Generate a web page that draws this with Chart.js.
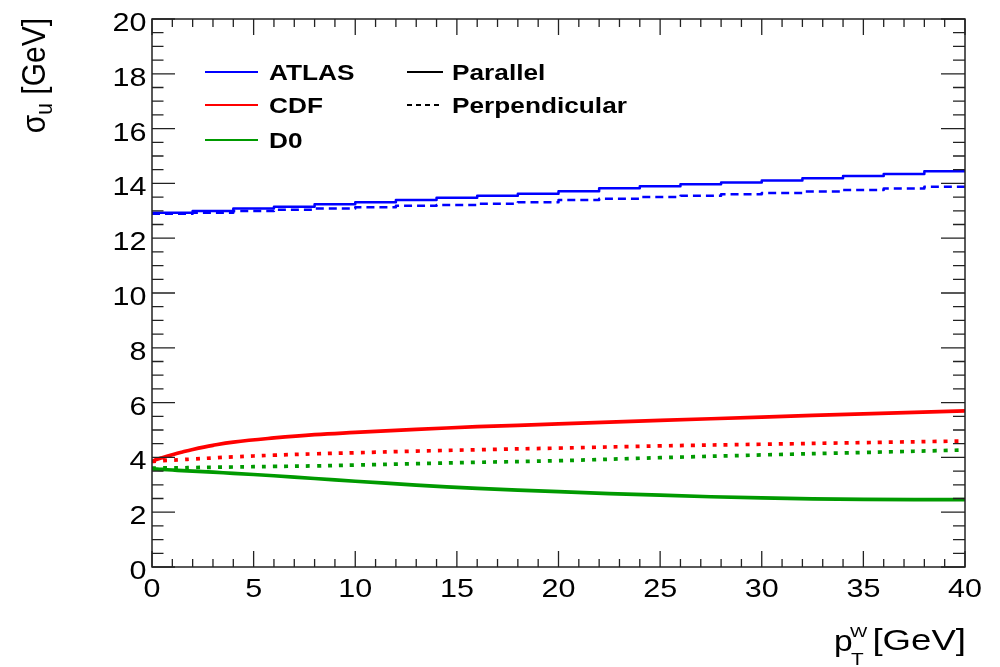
<!DOCTYPE html>
<html>
<head>
<meta charset="utf-8">
<script src="https://cdn.jsdelivr.net/npm/chart.js@4/dist/chart.umd.min.js"></script>
<style>
html,body{margin:0;padding:0;background:#fff;}
#wrap{position:relative;width:1000px;height:667px;}
</style>
</head>
<body>
<div id="wrap"><canvas id="c" width="1000" height="667"></canvas></div>
<script>
// ---- data ----
const binEdges = [0,2,4,6,8,10,12,14,16,18,20,22,24,26,28,30,32,34,36,38,40];
const atlasParallel = [12.93,12.99,13.08,13.15,13.24,13.31,13.39,13.48,13.55,13.62,13.71,13.82,13.90,13.97,14.03,14.11,14.19,14.27,14.34,14.44];
const atlasPerpendicular = [12.89,12.93,12.99,13.04,13.08,13.13,13.18,13.21,13.26,13.31,13.39,13.44,13.50,13.55,13.60,13.65,13.70,13.76,13.81,13.88];
const curveX = [0,0.25,0.5,1,1.5,2,3,4,6,8,10,13,16,20,25,30,35,40];
const cdfParallel = [3.85,3.93,3.99,4.10,4.20,4.29,4.44,4.56,4.71,4.83,4.91,5.02,5.12,5.22,5.35,5.47,5.59,5.70];
const cdfPerpendicular = [3.85,3.87,3.88,3.90,3.92,3.94,3.98,4.02,4.08,4.13,4.17,4.23,4.28,4.34,4.42,4.48,4.54,4.60];
const d0Parallel = [3.58,3.57,3.56,3.54,3.52,3.50,3.46,3.42,3.33,3.23,3.13,2.99,2.87,2.75,2.62,2.52,2.47,2.46];
const d0Perpendicular = [3.61,3.61,3.62,3.62,3.62,3.63,3.64,3.65,3.67,3.69,3.72,3.77,3.82,3.88,3.99,4.09,4.18,4.27];
const xTickLabels = [0,5,10,15,20,25,30,35,40];
const yTickLabels = [0,2,4,6,8,10,12,14,16,18,20];
const legendExperiments = ['ATLAS','CDF','D0'];
const legendStyles = ['Parallel','Perpendicular'];

const BLUE = '#0000ff', RED = '#ff0000', GREEN = '#009a00';
const FONT = "'Liberation Sans', Arial, Helvetica, sans-serif";
const SX = 1.22;

function histPoints(edges, vals){
  const pts = vals.map((v,i)=>({x:edges[i], y:v}));
  pts.push({x:edges[edges.length-1], y:vals[vals.length-1]});
  return pts;
}
function curvePoints(xs, ys){ return xs.map((x,i)=>({x:x, y:ys[i]})); }

function sText(ctx, text, x, y, align, font, sx){
  ctx.save();
  ctx.font = font;
  ctx.translate(x, y);
  ctx.scale(sx, 1);
  ctx.textAlign = align;
  ctx.textBaseline = 'alphabetic';
  ctx.fillStyle = '#000';
  ctx.fillText(text, 0, 0);
  ctx.restore();
}

const decor = {
  id: 'decor',
  afterDatasetsDraw(chart){
    const ctx = chart.ctx;
    const xs = chart.scales.x, ys = chart.scales.y;
    const L = chart.chartArea.left, R = chart.chartArea.right, T = chart.chartArea.top, B = chart.chartArea.bottom;
    ctx.save();
    ctx.strokeStyle = '#222';
    ctx.lineWidth = 1.3;
    ctx.beginPath();
    for (let i = 0; i < xTickLabels.length; i++){
      const v = xTickLabels[i];
      const px = xs.getPixelForValue(v);
      ctx.moveTo(px, B); ctx.lineTo(px, B-16);
      ctx.moveTo(px, T); ctx.lineTo(px, T+16);
      if (i < xTickLabels.length-1){
        const step = (xTickLabels[i+1]-v)/5;
        for (let k=1;k<5;k++){
          const mx = xs.getPixelForValue(v+k*step);
          ctx.moveTo(mx, B); ctx.lineTo(mx, B-8);
          ctx.moveTo(mx, T); ctx.lineTo(mx, T+8);
        }
      }
    }
    for (let i = 0; i < yTickLabels.length; i++){
      const v = yTickLabels[i];
      const py = ys.getPixelForValue(v);
      ctx.moveTo(L, py); ctx.lineTo(L+23, py);
      ctx.moveTo(R, py); ctx.lineTo(R-24, py);
      if (i < yTickLabels.length-1){
        const step = (yTickLabels[i+1]-v)/4;
        for (let k=1;k<4;k++){
          const my = ys.getPixelForValue(v+k*step);
          ctx.moveTo(L, my); ctx.lineTo(L+11.5, my);
          ctx.moveTo(R, my); ctx.lineTo(R-12, my);
        }
      }
    }
    ctx.stroke();
    ctx.lineWidth = 1.5;
    ctx.strokeRect(L, T, R-L, B-T);
    ctx.restore();

    const tickFont = '25px ' + FONT;
    xTickLabels.forEach(v=>{
      sText(ctx, String(v), xs.getPixelForValue(v), 597, 'center', tickFont, SX);
    });
    yTickLabels.forEach(v=>{
      sText(ctx, String(v), 146.5, ys.getPixelForValue(v)+12, 'right', tickFont, SX);
    });

    const titleFont = '30px ' + FONT;
    sText(ctx, '[GeV]', 966, 650, 'right', titleFont, SX);
    sText(ctx, 'p', 834, 651, 'left', '30px ' + FONT, 1.12);
    sText(ctx, 'W', 850, 637, 'left', '15px ' + FONT, SX);
    sText(ctx, 'T', 851, 665, 'left', '17px ' + FONT, SX);

    ctx.save();
    ctx.fillStyle = '#000';
    ctx.textBaseline = 'alphabetic';
    ctx.textAlign = 'left';
    ctx.font = titleFont;
    const wSig = ctx.measureText('\u03c3').width;
    const wRest = ctx.measureText(' [GeV]').width;
    ctx.font = '21px ' + FONT;
    const wU = ctx.measureText('u').width;
    const total = wSig + wU + wRest;
    ctx.translate(45, 18);
    ctx.scale(1.1, 1);
    ctx.rotate(-Math.PI/2);
    let pos = -total;
    ctx.font = titleFont;
    ctx.fillText('\u03c3', pos, 0); pos += wSig;
    ctx.font = '21px ' + FONT;
    ctx.fillText('u', pos, 6); pos += wU;
    ctx.font = titleFont;
    ctx.fillText(' [GeV]', pos, 0);
    ctx.restore();

    const legFont = 'bold 21.5px ' + FONT;
    const expColors = [BLUE, RED, GREEN];
    const rowY = [72, 105, 140];
    ctx.save();
    ctx.lineWidth = 2;
    legendExperiments.forEach((name, i)=>{
      ctx.strokeStyle = expColors[i];
      ctx.setLineDash([]);
      ctx.beginPath(); ctx.moveTo(205, rowY[i]); ctx.lineTo(258, rowY[i]); ctx.stroke();
      sText(ctx, name, 269, rowY[i]+8, 'left', legFont, SX);
    });
    legendStyles.forEach((name, i)=>{
      ctx.strokeStyle = '#000';
      ctx.setLineDash(i === 0 ? [] : [5,4]);
      ctx.beginPath(); ctx.moveTo(407, rowY[i]); ctx.lineTo(443, rowY[i]); ctx.stroke();
      sText(ctx, name, 452, rowY[i]+8, 'left', legFont, SX);
    });
    ctx.restore();
  }
};

const common = {pointRadius:0, pointHoverRadius:0, fill:false, borderCapStyle:'butt', borderJoinStyle:'round'};

new Chart(document.getElementById('c'), {
  type: 'line',
  data: {
    datasets: [
      Object.assign({label:'ATLAS parallel', data: histPoints(binEdges, atlasParallel), borderColor: BLUE, borderWidth: 2.5, stepped: true, borderJoinStyle:'miter'}, common),
      Object.assign({label:'ATLAS perpendicular', data: histPoints(binEdges, atlasPerpendicular), borderColor: BLUE, borderWidth: 2.5, stepped: true, borderDash:[8,5]}, common),
      Object.assign({label:'CDF parallel', data: curvePoints(curveX, cdfParallel), borderColor: RED, borderWidth: 3.7, tension: 0.4}, common),
      Object.assign({label:'CDF perpendicular', data: curvePoints(curveX, cdfPerpendicular), borderColor: RED, borderWidth: 3.7, borderDash:[4,7], tension: 0.4}, common),
      Object.assign({label:'D0 parallel', data: curvePoints(curveX, d0Parallel), borderColor: GREEN, borderWidth: 3.7, tension: 0.4}, common),
      Object.assign({label:'D0 perpendicular', data: curvePoints(curveX, d0Perpendicular), borderColor: GREEN, borderWidth: 3.7, borderDash:[4,7], tension: 0.4}, common)
    ]
  },
  options: {
    responsive: false,
    animation: false,
    devicePixelRatio: 1,
    layout: {padding: {left: 152, right: 35, top: 19, bottom: 100}},
    plugins: {legend: {display:false}, tooltip: {enabled:false}, title:{display:false}},
    events: [],
    scales: {
      x: {type:'linear', min:0, max:40, display:false},
      y: {type:'linear', min:0, max:20, display:false}
    }
  },
  plugins: [decor]
});
</script>
</body>
</html>
